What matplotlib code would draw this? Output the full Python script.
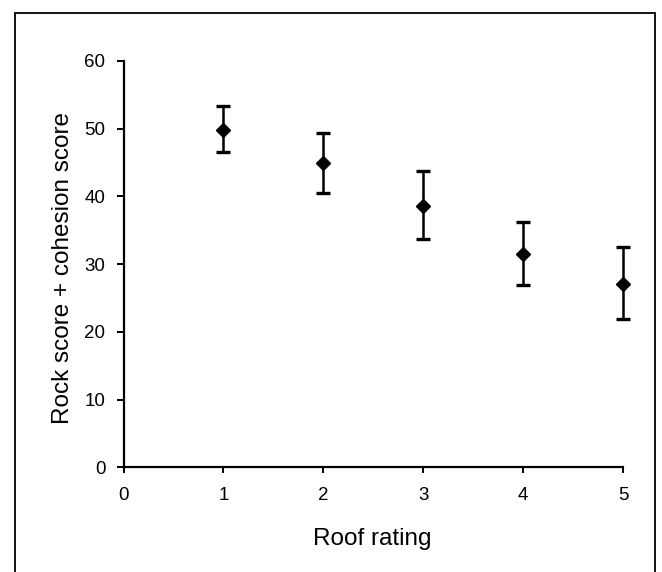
import numpy as np
import matplotlib
matplotlib.use("Agg")
import matplotlib.pyplot as plt
from matplotlib.patches import Rectangle

# values
roof_rating = [1, 2, 3, 4, 5]
score_mean = [49.8, 44.9, 38.6, 31.5, 27.1]
score_low = [46.5, 40.5, 33.7, 26.9, 21.9]
score_high = [53.4, 49.4, 43.8, 36.3, 32.6]

x_ticks = [0, 1, 2, 3, 4, 5]
y_ticks = [0, 10, 20, 30, 40, 50, 60]

plt.rcParams["font.family"] = ["Liberation Sans", "DejaVu Sans"]

fig = plt.figure(figsize=(6.62, 5.72), dpi=100)
ax = fig.add_axes([0.1866, 0.1827, 0.7545, 0.7107])

mean = np.array(score_mean)
yerr = np.vstack([mean - np.array(score_low), np.array(score_high) - mean])

ax.errorbar(
    roof_rating,
    score_mean,
    yerr=yerr,
    fmt="D",
    color="black",
    markersize=7.5,
    elinewidth=1.8,
    capsize=5,
    capthick=2.4,
    clip_on=False,
    zorder=5,
)

ax.set_xlim(0, 5)
ax.set_ylim(0, 60)
ax.set_xticks(x_ticks)
ax.set_yticks(y_ticks)

for side in ["top", "right"]:
    ax.spines[side].set_visible(False)
for side in ["left", "bottom"]:
    ax.spines[side].set_linewidth(1.6)

ax.tick_params(axis="y", direction="out", length=5, width=1.4, pad=8, labelsize=13.5)
ax.tick_params(axis="x", direction="out", length=4, width=1.4, pad=10, labelsize=13.5)

fig.text(63 / 662, 1 - 268 / 572, "Rock score + cohesion score",
         rotation=90, ha="center", va="center", fontsize=17.5)
fig.text(372 / 662, 1 - 539 / 572, "Roof rating",
         ha="center", va="center", fontsize=17.5)

# outer chart frame (bottom edge runs off the page)
fig.patches.append(Rectangle((15 / 662, -0.05), 640 / 662, 1.05 - 13 / 572,
                             transform=fig.transFigure, fill=False,
                             edgecolor="black", linewidth=1.3))

fig.savefig("out.png", dpi=100)
